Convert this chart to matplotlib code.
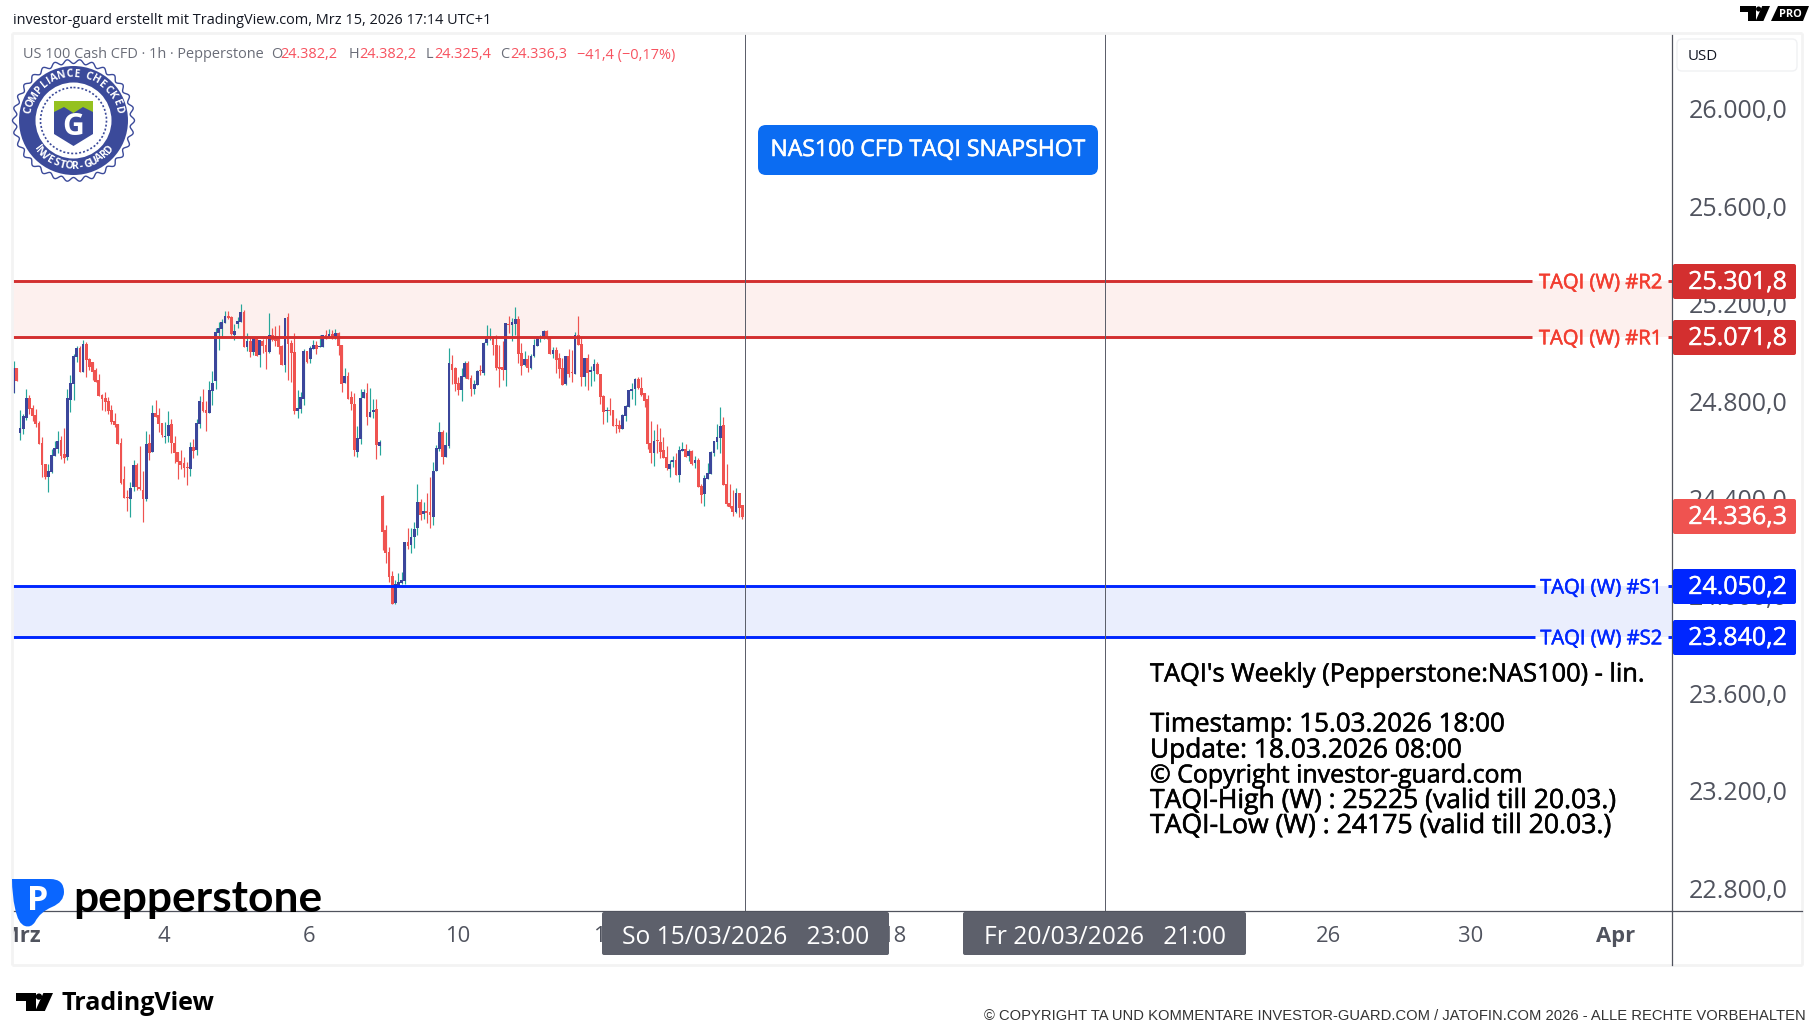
import numpy as np
import matplotlib
matplotlib.use("Agg")
import matplotlib.pyplot as plt
import matplotlib.patheffects as pe
from matplotlib.patches import Polygon, Rectangle, FancyBboxPatch, Circle, PathPatch
from matplotlib.path import Path
from matplotlib.transforms import ScaledTranslation

opens = [24845,24946,24680,24697,24741,24823,24782,24753,24719,24638,
24552,24499,24519,24586,24613,24650,24593,24582,24816,24882,
24992,25028,24931,25044,24983,24971,24938,24897,24835,24823,
24810,24773,24728,24716,24638,24490,24416,24408,24459,24548,
24458,24445,24408,24638,24601,24761,24753,24719,24663,24667,
24716,24638,24601,24564,24556,24540,24531,24622,24609,24716,
24808,24773,24761,24851,24893,25090,25106,25131,25159,25155,
25081,25126,25135,25176,25032,25057,25012,25069,25000,25057,
25040,25012,25081,25077,25077,25036,24958,25155,25048,25012,
24769,24778,24819,25016,24983,25024,25040,25032,25032,25081,
25073,25085,25069,25090,25040,24884,24913,24827,24798,24601,
24654,24823,24843,24745,24765,24778,24626,24421,24281,24191,
24092,23981,24051,24064,24072,24232,24219,24252,24289,24396,
24347,24359,24355,24334,24523,24613,24683,24581,24626,24962,
24946,24884,24856,24909,24966,24905,24860,24876,24938,24925,
25048,25069,25073,25040,24950,24950,24938,25126,25122,25126,
25147,25007,24958,24983,24946,24995,25036,25069,25069,25098,
25069,25003,25020,24987,24946,24880,24995,24928,24921,25081,
25044,24909,24987,24929,24934,24962,24921,24831,24769,24773,
24773,24712,24712,24697,24749,24786,24851,24860,24901,24864,
24843,24819,24638,24597,24650,24642,24609,24581,24531,24560,
24568,24507,24605,24613,24585,24605,24556,24568,24462,24429,
24490,24511,24597,24642,24659,24712,24470,24392,24380,24355,24433,24382]
highs = [24976,24946,24773,24757,24860,24835,24794,24778,24728,24663,
24552,24552,24615,24646,24687,24668,24700,24860,24917,25003,
25036,25036,25061,25053,24987,24971,24946,24921,24839,24847,
24827,24794,24761,24716,24659,24544,24445,24478,24568,24555,
24626,24523,24687,24675,24794,24815,24782,24719,24724,24769,
24737,24667,24601,24609,24581,24560,24642,24654,24737,24831,
24860,24810,24893,24934,25110,25135,25147,25180,25180,25159,
25126,25155,25209,25184,25090,25073,25073,25073,25061,25065,
25069,25172,25110,25118,25122,25040,25151,25172,25061,25090,
24856,24847,25024,25016,25036,25061,25057,25081,25081,25102,
25106,25102,25106,25094,25040,24946,24929,24851,24843,24708,
24860,24860,24884,24864,24819,24819,24650,24425,24302,24211,
24113,24076,24105,24109,24232,24289,24289,24314,24470,24408,
24396,24433,24499,24560,24630,24724,24691,24683,25028,25000,
24950,24909,24946,24975,24975,24917,24897,24938,24958,25053,
25122,25110,25077,25081,25040,25057,25131,25159,25151,25196,
25159,25048,25016,25000,25003,25065,25077,25081,25102,25102,
25073,25032,25032,25007,24987,24995,25024,25020,25094,25159,
25069,24987,25003,24954,24983,24971,24921,24835,24786,24823,
24773,24741,24732,24757,24794,24856,24884,24905,24909,24909,
24843,24835,24728,24691,24716,24700,24663,24626,24568,24585,
24597,24626,24642,24634,24613,24609,24585,24577,24470,24507,
24556,24605,24646,24716,24786,24745,24552,24470,24445,24453,24433,24382]
lows = [24845,24894,24650,24675,24732,24757,24730,24705,24635,24500,
24490,24438,24516,24586,24596,24574,24557,24570,24767,24816,
24971,24931,24931,24909,24938,24897,24890,24832,24773,24771,
24758,24716,24705,24635,24471,24414,24360,24336,24442,24445,
24445,24315,24401,24568,24601,24745,24683,24661,24638,24642,
24597,24557,24490,24531,24499,24466,24503,24577,24589,24700,
24765,24687,24761,24794,24860,25020,25073,25131,25147,25081,
25061,25110,25135,25032,25016,24991,25000,24995,24950,25007,
24942,25007,25057,25036,25003,24958,24929,24897,24887,24757,
24741,24761,24794,24966,24966,25024,25003,25032,25032,25065,
25069,25065,25065,25000,24847,24884,24819,24773,24585,24581,
24634,24823,24712,24745,24741,24572,24589,24199,24146,24068,
23977,23977,24051,24059,24059,24203,24187,24207,24260,24322,
24326,24310,24289,24302,24523,24605,24552,24581,24618,24880,
24851,24835,24810,24905,24901,24831,24839,24876,24917,24917,
25040,25061,25000,24938,24868,24897,24872,25090,25057,25081,
24966,24917,24954,24929,24942,24991,25036,25053,25065,25065,
25003,24987,24925,24905,24876,24876,24909,24888,24921,25040,
24872,24872,24856,24872,24893,24921,24798,24716,24724,24753,
24708,24679,24683,24697,24728,24786,24819,24794,24860,24831,
24786,24613,24556,24544,24597,24577,24577,24527,24499,24540,
24507,24478,24605,24581,24564,24548,24535,24458,24392,24380,
24490,24511,24585,24613,24597,24466,24380,24371,24338,24351,24334,24325]
closes = [24946,24894,24700,24749,24823,24779,24750,24716,24635,24549,
24499,24523,24589,24618,24646,24586,24578,24823,24884,24995,
25028,24931,25044,24980,24950,24931,24890,24832,24820,24808,
24771,24726,24712,24635,24474,24414,24414,24453,24548,24458,
24449,24408,24634,24597,24761,24745,24716,24671,24667,24712,
24638,24597,24560,24548,24537,24535,24622,24605,24720,24810,
24769,24761,24856,24884,25094,25110,25135,25159,25151,25085,
25098,25139,25176,25032,25057,25012,25069,24995,25061,25036,
25012,25081,25061,25057,25032,24958,25151,25044,25007,24769,
24782,24827,25016,24971,25028,25040,25024,25036,25081,25065,
25085,25069,25090,25036,24880,24913,24819,24798,24609,24659,
24823,24847,24745,24765,24773,24630,24642,24273,24187,24088,
23977,24059,24066,24076,24232,24215,24252,24285,24396,24343,
24359,24351,24343,24523,24618,24683,24581,24630,24966,24938,
24880,24856,24913,24966,24901,24860,24880,24934,24934,25048,
25065,25073,25040,24946,24942,24938,25131,25124,25135,25147,
25003,24954,24983,24946,24995,25040,25069,25073,25098,25069,
25003,25020,24979,24942,24876,24995,24921,24925,25081,25040,
24909,24987,24925,24938,24962,24921,24827,24765,24773,24771,
24708,24709,24697,24753,24790,24856,24860,24901,24864,24835,
24810,24634,24597,24646,24648,24601,24577,24535,24552,24568,
24507,24609,24613,24581,24605,24552,24568,24458,24425,24494,
24515,24601,24646,24663,24708,24466,24388,24375,24355,24433,24371,24336]

levels_red = [25301.8, 25071.8]
levels_blue = [24050.2, 23840.2]
level_names_red = ["TAQI (W) #R2", "TAQI (W) #R1"]
level_names_blue = ["TAQI (W) #S1", "TAQI (W) #S2"]
last_price = 24336.3
price_ticks = [22800, 23200, 23600, 24000, 24400, 24800, 25200, 25600, 26000]
date_ticks = [2, 47.7, 93.6, 140.9, 187.8, 279, 416.9, 462, 508]
date_labels = ["Mrz", "4", "6", "10", "12", "18", "26", "30", "Apr"]
cursor_bars = [232, 346.15]
cursor_labels = ["So 15/03/2026   23:00", "Fr 20/03/2026   21:00"]
info_lines = ["TAQI's Weekly (Pepperstone:NAS100) - lin.", "Timestamp: 15.03.2026 18:00",
              "Update: 18.03.2026 08:00", "© Copyright investor-guard.com",
              "TAQI-High (W) : 25225 (valid till 20.03.)", "TAQI-Low (W) : 24175 (valid till 20.03.)"]

W, H = 1814, 1035
plt.rcParams['font.family'] = ['Open Sans', 'DejaVu Sans']
fig = plt.figure(figsize=(W/100, H/100), dpi=100, facecolor='white')
px = lambda p: p*0.72
def heavy(col, w=0.45):
    return [pe.withStroke(linewidth=w, foreground=col)]

# main price pane
L, T, R, B = 12.7, 34.0, 1672.0, 911.0
ax = fig.add_axes([L/W, 1-B/H, (R-L)/W, (B-T)/H], zorder=1)
BAR = 3.154
ax.set_xlim((L-13.7)/BAR, (R-13.7)/BAR)
ax.set_ylim(25301.8-(B-281.3)/0.2436, 25301.8+(281.3-T)/0.2436)

UP_W, UP_B, DN = '#26a69a', '#3b469b', '#ef5350'
x = np.arange(len(opens))
o, h, l, c = map(np.array, (opens, highs, lows, closes))
up = c >= o
ax.axhspan(levels_red[1], levels_red[0], color='#fdf0ee', lw=0, zorder=1)
ax.axhspan(levels_blue[1], levels_blue[0], color='#eaeefd', lw=0, zorder=1)
ax.vlines(x[up], l[up], h[up], color=UP_W, lw=0.85, zorder=3)
ax.vlines(x[~up], l[~up], h[~up], color=DN, lw=0.85, zorder=3)
ax.bar(x[up], np.maximum(c[up]-o[up], 4), bottom=o[up], width=0.88, color=UP_B, lw=0, zorder=4)
ax.bar(x[~up], np.maximum(o[~up]-c[~up], 4), bottom=c[~up], width=0.88, color=DN, lw=0, zorder=4)
ax.hlines(levels_red, ax.get_xlim()[0], 481.5, color='#d32f2f', lw=2.1, zorder=5)
ax.hlines(levels_red, 524.6, ax.get_xlim()[1], color='#d32f2f', lw=2.1, zorder=5)
ax.hlines(levels_blue, ax.get_xlim()[0], 482.2, color='#0026ff', lw=2.1, zorder=5)
ax.hlines(levels_blue, 524.6, ax.get_xlim()[1], color='#0026ff', lw=2.1, zorder=5)
for cb in cursor_bars:
    ax.axvline(cb, color='#5d606b', lw=0.72, zorder=6)

ax.yaxis.tick_right()
ax.set_yticks(price_ticks)
ax.set_yticklabels([f"{v:,.1f}".replace(",", "#").replace(".", ",").replace("#", ".") for v in price_ticks],
                   fontsize=px(25), color='#50535e')
ax.set_xticks(date_ticks)
ax.set_xticklabels(date_labels, fontsize=px(22), color='#50535e')
for t in ax.get_xticklabels():
    if t.get_text() in ("Mrz", "Apr"):
        t.set_fontweight('bold')
ax.tick_params(axis='y', length=0, pad=12)
ax.tick_params(axis='x', length=0, pad=10.5)
shift_up = ScaledTranslation(0, 2.5/100, fig.dpi_scale_trans)
for t in ax.get_yticklabels():
    t.set_transform(t.get_transform()+shift_up)
for s in ('top', 'left'):
    ax.spines[s].set_visible(False)
for s in ('right', 'bottom'):
    ax.spines[s].set_color('#50535e')
    ax.spines[s].set_linewidth(0.9)

# overlay in pixel coordinates (chrome, tags, logos)
ov = fig.add_axes([0, 0, 1, 1], zorder=10)
ov.set_xlim(0, W); ov.set_ylim(H, 0); ov.axis('off'); ov.patch.set_alpha(0)
ov.add_patch(Rectangle((0, 912), 12.5, 60, fc='white', ec='none', zorder=1))
for xs, ys in (([12, 1802], [33, 33]), ([12, 12], [33, 965]), ([12, 1802], [965, 965]), ([1802, 1802], [33, 965])):
    ov.plot(xs, ys, color='#f3f3f3', lw=2, zorder=1, solid_capstyle='butt')
ov.plot([1672, 1802], [911, 911], color='#50535e', lw=0.9, zorder=2)
ov.plot([1672, 1672], [911, 965], color='#50535e', lw=0.9, zorder=2)

def box(x0, y0, x1, y1, fc, r=2, ec='none', lw=0, z=3):
    ov.add_patch(FancyBboxPatch((x0+r, y0+r), x1-x0-2*r, y1-y0-2*r, boxstyle=f"round,pad={r},rounding_size={r}",
                                fc=fc, ec=ec, lw=lw, zorder=z))

box(1677, 39, 1797, 71, 'white', r=5, ec='#f0f1f3', lw=1)
ov.text(1688, 57, "USD", fontsize=px(15), color='#131722', va='center', ha='left', zorder=4)

tags = [(264, 299, '#d32f2f', "25.301,8"), (320, 355, '#d32f2f', "25.071,8"), (499, 534, '#ef5350', "24.336,3"),
        (569, 604, '#0026ff', "24.050,2"), (620, 655, '#0026ff', "23.840,2")]
for y0, y1, col, s in tags:
    box(1673, y0, 1796, y1, col)
    ov.text(1787, (y0+y1)/2+1, s, color='white', fontsize=px(25), ha='right', va='center', zorder=4,
            path_effects=heavy('white', 0.3))
for y, col, s in [(281.3, '#f23d30', level_names_red[0]), (337.3, '#f23d30', level_names_red[1]),
                  (586.5, '#0026ff', level_names_blue[0]), (637.3, '#0026ff', level_names_blue[1])]:
    ov.text(1662, y+2, s, color=col, fontsize=px(20.2), ha='right', va='center', zorder=4, path_effects=heavy(col, 0.4))

box(602, 912, 889, 955, '#5d606b')
box(963, 912, 1246, 955, '#5d606b')
ov.text(745.5, 937, cursor_labels[0], color='white', fontsize=px(24.6), ha='center', va='center', zorder=4)
ov.text(1104.5, 937, cursor_labels[1], color='white', fontsize=px(24.6), ha='center', va='center', zorder=4)

box(758, 125, 1098, 175, '#0b6cf2', r=8)
ov.text(928, 150, "NAS100 CFD TAQI SNAPSHOT", color='white', fontsize=px(23), ha='center', va='center',
        zorder=4, path_effects=heavy('white', 0.4))

for s, y, size in zip(info_lines, [675, 725, 751, 776, 801, 826], [25.4, 26.0, 26.3, 24.9, 26.5, 26.6]):
    ov.text(1150, y, s, color='black', fontsize=px(size), ha='left', va='center', zorder=4,
            path_effects=heavy('black', 0.4))

ov.text(13, 21, "investor-guard erstellt mit TradingView.com, Mrz 15, 2026 17:14 UTC+1", color='#131722',
        fontsize=px(14.55), ha='left', va='center')
GR, RD = '#6a6d78', '#f7525f'
for xp, s, col in [(23, "US 100 Cash CFD · 1h · Pepperstone", GR), (271, "O", GR), (280, "24.382,2", RD), (349, "H", GR),
                   (359, "24.382,2", RD), (426, "L", GR), (434, "24.325,4", RD), (500, "C", GR), (510, "24.336,3", RD),
                   (577, "−41,4 (−0,17%)", RD)]:
    ov.text(xp, 55, s, color=col, fontsize=px(14.5), ha='left', va='center', zorder=4)

ov.text(1806, 1016, "© COPYRIGHT TA UND KOMMENTARE INVESTOR-GUARD.COM / JATOFIN.COM 2026 - ALLE RECHTE VORBEHALTEN",
        family='Liberation Sans', fontsize=px(14.8), color='#333333', ha='right', va='center')

# compliance badge
cx, cy = 73.5, 120.5
BL = '#3b4a9a'
th = np.linspace(0, 2*np.pi, 721)
ov.add_patch(Polygon(np.c_[cx+(59+2*np.cos(30*th))*np.cos(th), cy+(59+2*np.cos(30*th))*np.sin(th)],
                     fc='white', ec=BL, lw=1, zorder=4))
ov.add_patch(Circle((cx, cy), 54.5, fc=BL, ec='none', zorder=5))
ov.add_patch(Circle((cx, cy), 38, fc='white', ec='none', zorder=6))
ov.add_patch(Circle((cx, cy), 33, fc='none', ec=BL, lw=1.2, ls=(0, (1.2, 1.2)), zorder=7))

def arc_text(s, radius, a0, a1, top=True):
    wid = np.array([0.45 if ch in " I" else 0.9 for ch in s])
    pos = (np.cumsum(wid)-wid/2)/wid.sum()
    for ch, f in zip(s, pos):
        a = a0+(a1-a0)*f
        r = np.radians(a)
        rot = a-90 if top else a+90
        ov.text(cx+radius*np.cos(r), cy-radius*np.sin(r), ch, color='white', fontsize=px(10.5), fontweight='bold',
                ha='center', va='center', rotation=rot, rotation_mode='anchor', zorder=8)

arc_text("COMPLIANCE CHECKED", 46, 172, 8, True)
arc_text("INVESTOR-GUARD", 46, 215, 325, False)
ov.add_patch(Polygon([(54, 101), (93, 101), (93, 134), (73.5, 146), (54, 134)], fc=BL, ec='none', zorder=8))
ov.add_patch(Polygon([(54, 101), (93, 101), (93, 112), (83, 107), (73.5, 113), (64, 107), (54, 112)],
                     fc='#95c11f', ec='none', zorder=9))
ov.text(73.5, 127, "G", color='white', fontsize=px(30), fontweight='bold', ha='center', va='center', zorder=9)

# pepperstone mark and wordmark
verts = [(24, 879), (50, 879), (64, 879), (64, 892), (64, 902), (52, 907), (40, 912), (35, 922), (31, 928), (25, 926),
         (18, 924), (15, 908), (12, 895), (12, 879), (24, 879), (24, 879)]
codes = [Path.MOVETO, Path.LINETO] + [Path.CURVE3]*12 + [Path.LINETO, Path.CLOSEPOLY]
ov.add_patch(PathPatch(Path(verts, codes), fc='#0a66ff', ec='none', zorder=5))
ov.text(38, 901, "P", color='white', fontsize=px(34), fontweight='bold', ha='center', va='center', zorder=6)
ov.text(73, 899, "pepperstone", color='black', fontsize=px(44.3), fontweight='bold', family='Lato', ha='left',
        va='center', zorder=5)

# TradingView marks
def tv_mark(x0, y0, w, h_, z=5):
    ov.add_patch(Polygon([(x0, y0), (x0+.53*w, y0), (x0+.53*w, y0+h_), (x0+.27*w, y0+h_), (x0+.27*w, y0+.42*h_), (x0, y0+.42*h_)],
                         fc='black', ec='none', zorder=z))
    ov.add_patch(Circle((x0+.62*w, y0+.2*h_), .085*w, fc='black', ec='none', zorder=z))
    ov.add_patch(Polygon([(x0+.74*w, y0), (x0+w, y0), (x0+.78*w, y0+h_), (x0+.52*w, y0+h_)], fc='black', ec='none', zorder=z))

tv_mark(16, 993, 37, 18)
ov.text(61, 1004, "TradingView", color='black', fontsize=px(25), fontweight='bold', ha='left', va='center', zorder=5)
tv_mark(1740, 6, 30, 15)
ov.add_patch(Polygon([(1778, 6), (1809, 6), (1803, 21), (1771, 21)], fc='black', ec='none', zorder=5))
ov.text(1790, 14.5, "PRO", color='white', fontsize=px(11), fontweight='bold', ha='center', va='center', zorder=6)

fig.savefig("out.png", dpi=100, facecolor='white')
